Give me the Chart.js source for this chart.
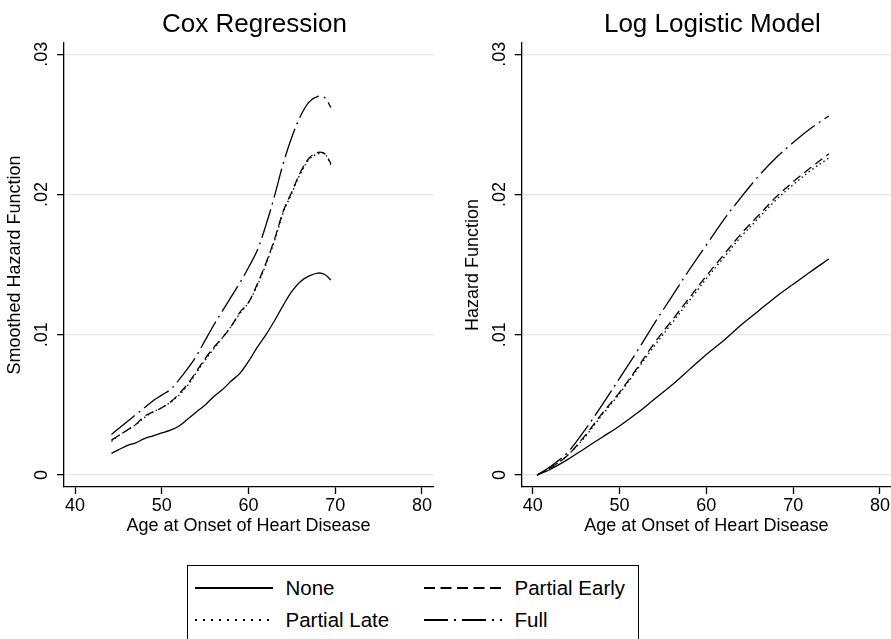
<!DOCTYPE html>
<html>
<head>
<meta charset="utf-8">
<script src="https://cdn.jsdelivr.net/npm/chart.js@4.4.0/dist/chart.umd.min.js"></script>
<style>
    html, body { margin: 0; padding: 0; background: #fff; }
    body { width: 891px; height: 639px; position: relative; overflow: hidden; font-family: 'Liberation Sans', Arial, sans-serif; }
    #coxChart { position: absolute; left: 0; top: 0; }
    #llChart { position: absolute; left: 445px; top: 0; }
    #legend { position: absolute; left: 187px; top: 565px; width: 452px; height: 100px; border: 1.5px solid #000; box-sizing: border-box; }
    .item { position: absolute; height: 24px; display: flex; align-items: center; font-size: 20.5px; color: #000; white-space: nowrap; }
    .item svg { margin-right: 13px; }
</style>
</head>
<body>
<canvas id="coxChart" width="445" height="550"></canvas>
<canvas id="llChart" width="446" height="550"></canvas>
<div id="legend"></div>
<script>
// Series and axis data
const seriesNames = ['None', 'Partial Early', 'Partial Late', 'Full'];
const xTicks = [40, 50, 60, 70, 80];
const yTicks = [0, 0.01, 0.02, 0.03];
const yTickLabels = ['0', '.01', '.02', '.03'];

// Cox regression (smoothed hazard)
const coxAges = [44.2, 45, 46, 47, 48, 49, 50, 51, 52, 53, 54, 55, 56, 57, 58, 59, 60, 61, 62, 63, 64, 65, 66, 67, 68, 68.8, 69.5];
const coxNone = [.00155, .0018, .0021, .0023, .0026, .0028, .0030, .0032, .0035, .0040, .0045, .0050, .0056, .0061, .0067, .00725, .0081, .0091, .0100, .0110, .0121, .0131, .0138, .0142, .0144, .0143, .0139];
const coxPartialEarly = [.0025, .0028, .0032, .0036, .0042, .0045, .0048, .0052, .0058, .0065, .0074, .0083, .0091, .0098, .0106, .0116, .0123, .0136, .0151, .0168, .0188, .0202, .0216, .0226, .0230, .0229, .0222];
const coxPartialLate = [.0024, .0028, .0032, .0036, .0041, .0045, .0048, .0052, .0057, .0064, .0073, .0082, .0090, .0098, .0106, .0115, .0123, .0135, .0150, .0167, .0187, .0201, .0215, .0225, .0229, .0229, .0221];
const coxFull = [.0029, .0033, .0038, .0043, .0048, .0053, .0057, .0061, .0068, .0076, .0085, .0096, .0107, .0117, .0127, .0137, .0148, .0160, .0178, .0199, .0222, .0241, .0256, .0266, .0270, .0269, .0262];

// Log logistic model
const llAges = [40.5, 42, 44, 46, 48, 50, 52, 54, 56, 58, 60, 62, 64, 66, 68, 70, 72, 74.1];
const llNone = [0, .0004, .0011, .0019, .0027, .0035, .0044, .0054, .0064, .0075, .0086, .0096, .0107, .0117, .0127, .0136, .0145, .0154];
const llPartialEarly = [0, .0005, .0014, .0028, .0044, .0059, .0076, .0094, .0110, .0126, .0142, .0157, .0172, .0185, .0198, .0209, .0219, .0229];
const llPartialLate = [0, .0005, .0014, .0027, .0043, .0058, .0075, .0092, .0108, .0124, .0140, .0155, .0170, .0183, .0196, .0207, .0217, .0226];
const llFull = [0, .0006, .0016, .0032, .0050, .0069, .0088, .0108, .0127, .0146, .0164, .0182, .0198, .0213, .0226, .0237, .0247, .0256];

// Line styles (per series, same order as seriesNames)
const chartDash = [[], [9, 5], [1.5, 3], [30, 5, 2, 5]];
const legendDash = ['', '11 5.5', '2 6', '24 6 2 6'];

const FONT = "'Liberation Sans', Arial, sans-serif";

// nudge the panel titles a little to the right, like the original graph
const titleShift = {
    id: 'titleShift',
    afterLayout(chart) {
        if (chart.titleBlock) {
            chart.titleBlock.left += 6;
            chart.titleBlock.right += 6;
        }
    }
};

function makeChart(canvasId, title, yTitle, opts, ages, values) {
    const ctx = document.getElementById(canvasId).getContext('2d');
    const datasets = seriesNames.map((name, i) => ({
        label: name,
        data: ages.map((a, j) => ({ x: a, y: values[i][j] })),
        borderColor: '#000',
        borderWidth: 1.3,
        borderDash: chartDash[i],
        pointRadius: 0,
        fill: false,
        tension: 0.35
    }));

    return new Chart(ctx, {
        type: 'line',
        data: { datasets: datasets },
        plugins: [titleShift],
        options: {
            responsive: false,
            animation: false,
            layout: { padding: { left: 0, right: opts.padRight, top: 0, bottom: 0 } },
            plugins: {
                legend: { display: false },
                tooltip: { enabled: false },
                title: {
                    display: true,
                    text: title,
                    fullSize: false,
                    color: '#000',
                    font: { family: FONT, size: 26, weight: 'normal' },
                    padding: { top: 8.9, bottom: 2.9 }
                }
            },
            scales: {
                x: {
                    type: 'linear',
                    min: 38.73,
                    max: 81.27,
                    afterBuildTicks: s => { s.ticks = xTicks.map(v => ({ value: v })); },
                    afterFit: s => { s.height = 63; s.paddingLeft = 0; s.paddingRight = 0; },
                    ticks: { color: '#000', font: { family: FONT, size: 18 }, padding: 1, maxRotation: 0, autoSkip: false },
                    grid: { drawOnChartArea: false, drawTicks: true, tickLength: 7, tickColor: '#000', tickWidth: 1.3 },
                    border: { display: true, color: '#000', width: 1.3 },
                    title: {
                        display: true,
                        text: 'Age at Onset of Heart Disease',
                        color: '#000',
                        font: { family: FONT, size: 18 },
                        padding: { top: 0, bottom: 13 }
                    }
                },
                y: {
                    type: 'linear',
                    min: -0.00085,
                    max: 0.0308,
                    afterBuildTicks: s => { s.ticks = yTicks.map(v => ({ value: v })); },
                    afterFit: s => { s.width = opts.yWidth; s.paddingTop = 0; s.paddingBottom = 0; },
                    ticks: {
                        color: '#000',
                        font: { family: FONT, size: 18 },
                        minRotation: 90,
                        maxRotation: 90,
                        crossAlign: 'center',
                        padding: 2.5,
                        callback: v => yTickLabels[yTicks.indexOf(v)]
                    },
                    grid: { color: '#e6e6e6', lineWidth: 1.3, drawTicks: true, tickLength: 7, tickColor: '#000' },
                    border: { display: true, color: '#000', width: 1.3 },
                    title: {
                        display: true,
                        text: yTitle,
                        color: '#000',
                        font: { family: FONT, size: 18 },
                        padding: { top: opts.yTitlePad, bottom: 0 }
                    }
                }
            }
        }
    });
}

makeChart('coxChart', 'Cox Regression', 'Smoothed Hazard Function',
    { padRight: 12, yWidth: 64, yTitlePad: 4.7 },
    coxAges, [coxNone, coxPartialEarly, coxPartialLate, coxFull]);

makeChart('llChart', 'Log Logistic Model', 'Hazard Function',
    { padRight: 0, yWidth: 76.7, yTitlePad: 17.7 },
    llAges, [llNone, llPartialEarly, llPartialLate, llFull]);

// Shared legend box below the panels
const legend = document.getElementById('legend');
const itemPos = [[6.5, 9.5], [235.5, 9.5], [6.5, 41.5], [235.5, 41.5]];
seriesNames.forEach((name, i) => {
    const item = document.createElement('div');
    item.className = 'item';
    item.style.left = itemPos[i][0] + 'px';
    item.style.top = itemPos[i][1] + 'px';
    item.innerHTML = '<svg width="78" height="4"><line x1="0" y1="2" x2="78" y2="2" stroke="#000" stroke-width="2"' +
        (legendDash[i] ? ' stroke-dasharray="' + legendDash[i] + '"' : '') + '/></svg>' +
        '<span>' + name + '</span>';
    legend.appendChild(item);
});
</script>
</body>
</html>
